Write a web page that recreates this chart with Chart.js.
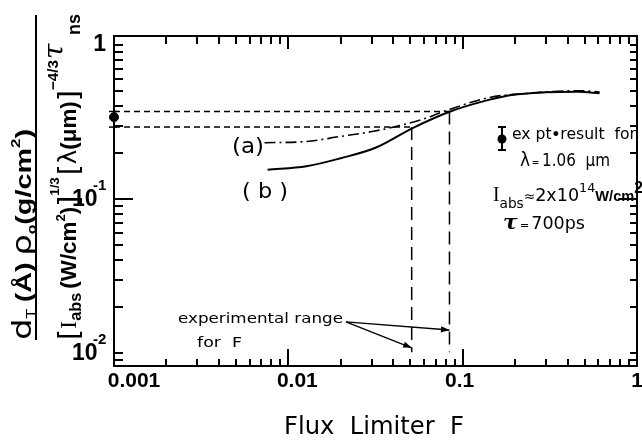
<!DOCTYPE html>
<html>
<head>
<meta charset="utf-8">
<script src="https://cdn.jsdelivr.net/npm/chart.js@4.4.1/dist/chart.umd.min.js"></script>
<style>
  html, body { margin: 0; padding: 0; background: #fff; overflow: hidden; }
  canvas { display: block; }
</style>
</head>
<body>
<canvas id="chart" width="642" height="442"></canvas>
<script>
// curve (b), solid
const fluxB  = [0.0076, 0.0127, 0.020, 0.0316, 0.052, 0.085, 0.141, 0.191, 0.297, 0.46, 0.61];
const depthB = [0.155, 0.163, 0.184, 0.215, 0.29, 0.37, 0.44, 0.474, 0.493, 0.497, 0.486];
// curve (a), dash-dot
const fluxA  = [0.0073, 0.0126, 0.0196, 0.0302, 0.0412, 0.0613, 0.0729, 0.141, 0.238, 0.46, 0.61];
const depthA = [0.232, 0.236, 0.254, 0.274, 0.295, 0.334, 0.36, 0.455, 0.486, 0.505, 0.495];

// experiment: point on the axis, range lines
const exptF = [0.001];
const exptDepth = [0.34];
const rangeF = [0.051, 0.084];
const rangeDepth = [0.293, 0.37];
const rangeBottom = [0.0101, 0.0101];
const arrowTail = [0.0214, 0.0159];
const arrowTipDepth = [0.0108, 0.0141];

// axes
const xTickValues = [0.001, 0.01, 0.1, 1];
const xTickLabels = ["0.001", "0.01", "0.1", "1"];
const yTickValues = [0.01, 0.1, 1];
const yTickLabels = [["10", "-2"], ["10", "-1"], ["1", ""]];
const yLongTicks = [0.1];
const xLongTicks = [0.01, 0.1];
const yMin = 0.00823, yMax = 1.144;

const pts = (xs, ys) => xs.map((v, i) => ({ x: v, y: ys[i] }));
const line = (data, extra) => Object.assign({
  data, showLine: true, pointRadius: 0, borderColor: "#000",
  borderWidth: 1.5, fill: false
}, extra);

// minor and major tick values of a log axis
function logTicks(min, max) {
  const out = [];
  const lo = Math.floor(Math.log10(min) + 1e-9), hi = Math.ceil(Math.log10(max) - 1e-9);
  for (let e = lo; e <= hi; e++) {
    for (let k = 1; k < 10; k++) {
      const v = k * Math.pow(10, e);
      if (v >= min * 0.999 && v <= max * 1.001) out.push(v);
    }
  }
  return out;
}

// draw a row of text pieces, optionally rotated, squeezed to a length
function runs(ctx, parts, x, y, angle, len) {
  ctx.save();
  ctx.translate(x, y);
  ctx.rotate(angle);
  let total = 0;
  parts.forEach(p => { ctx.font = p.f; total += ctx.measureText(p.t).width + (p.g || 0); });
  if (len) ctx.scale(len / total, 1);
  let pos = 0;
  parts.forEach(p => {
    ctx.font = p.f;
    ctx.fillText(p.t, pos, p.dy || 0);
    pos += ctx.measureText(p.t).width + (p.g || 0);
  });
  ctx.restore();
}

const SANS = '"DejaVu Sans"';
const BOLD = 'bold 22px "Liberation Sans"';
const xLabelShift = [20, 9, -3, 0];

function drawFrame(chart) {
  const ctx = chart.ctx, ca = chart.chartArea;
  const xs = chart.scales.x, ys = chart.scales.y;
  ctx.save();
  ctx.setLineDash([]);
  ctx.strokeStyle = "#000";
  ctx.fillStyle = "#000";
  ctx.lineWidth = 2;
  ctx.strokeRect(ca.left, ca.top, ca.right - ca.left, ca.bottom - ca.top);

  // inward tick marks on all four sides
  ctx.beginPath();
  logTicks(xTickValues[0], xTickValues[xTickValues.length - 1]).forEach(v => {
    const p = Math.round(xs.getPixelForValue(v));
    const big = xLongTicks.some(m => Math.abs(m - v) < m * 1e-6);
    ctx.moveTo(p, ca.bottom); ctx.lineTo(p, ca.bottom - (big ? 17 : 7));
    ctx.moveTo(p, ca.top); ctx.lineTo(p, ca.top + (big ? 13 : 8));
  });
  logTicks(yMin, yMax).forEach(v => {
    const p = Math.round(ys.getPixelForValue(v));
    const big = yLongTicks.some(m => Math.abs(m - v) < m * 1e-6);
    ctx.moveTo(ca.left, p); ctx.lineTo(ca.left + (big ? 19 : 9), p);
    ctx.moveTo(ca.right, p); ctx.lineTo(ca.right - (big ? 19 : 7), p);
  });
  ctx.stroke();

  const seg = (x1, y1, x2, y2) => { ctx.beginPath(); ctx.moveTo(x1, y1); ctx.lineTo(x2, y2); ctx.stroke(); };

  // x tick labels
  ctx.textAlign = "center";
  ctx.textBaseline = "top";
  ctx.font = 'bold 21px "Liberation Sans"';
  xTickValues.forEach((v, i) => ctx.fillText(xTickLabels[i], xs.getPixelForValue(v) + xLabelShift[i], ca.bottom + 5));

  // y tick labels with superscripts
  ctx.textBaseline = "middle";
  yTickValues.forEach((v, i) => {
    const p = ys.getPixelForValue(v);
    const base = yTickLabels[i][0], sup = yTickLabels[i][1];
    ctx.font = 'bold 23px "Liberation Sans"';
    if (!sup) { ctx.textAlign = "right"; ctx.fillText(base, 106, p); return; }
    ctx.textAlign = "left";
    ctx.fillText(base, 72, p + 1);
    ctx.font = 'bold 15px "Liberation Sans"';
    ctx.fillText(sup, 93, p - 13);
  });
  ctx.textAlign = "left";
  ctx.textBaseline = "alphabetic";

  // error caps of the measured point
  ctx.lineWidth = 1.5;
  const ex = xs.getPixelForValue(exptF[0]);
  rangeDepth.forEach(d => { const p = ys.getPixelForValue(d); seg(ex - 5, p, ex + 3, p); });

  // arrow heads
  [6, 7].forEach(i => {
    const m = chart.getDatasetMeta(i).data;
    const a = m[0], b = m[1];
    const ang = Math.atan2(b.y - a.y, b.x - a.x);
    ctx.beginPath();
    ctx.moveTo(b.x, b.y);
    ctx.lineTo(b.x - 9 * Math.cos(ang - 0.35), b.y - 9 * Math.sin(ang - 0.35));
    ctx.lineTo(b.x - 9 * Math.cos(ang + 0.35), b.y - 9 * Math.sin(ang + 0.35));
    ctx.closePath();
    ctx.fill();
  });

  // y axis title, a rotated fraction
  const up = -Math.PI / 2;
  runs(ctx, [
    { t: "d", f: "26px " + SANS },
    { t: "T", f: "12px " + SANS, dy: 4, g: 5 },
    { t: "(Å)", f: BOLD, g: 5 },
    { t: "ρ", f: "26px " + SANS },
    { t: "o", f: 'bold 12px "Liberation Sans"', dy: 5 },
    { t: "(g/cm", f: BOLD },
    { t: "2", f: 'bold 13px "Liberation Sans"', dy: -11 },
    { t: ")", f: BOLD }
  ], 31, 340, up, 211);
  ctx.lineWidth = 2;
  seg(36, 340, 36, 15);
  runs(ctx, [
    { t: "[", f: "28px " + SANS, dy: 3 },
    { t: "I", f: '24px "Liberation Serif"' },
    { t: "abs", f: 'bold 16px "Liberation Sans"', dy: 5, g: 4 },
    { t: "(W/cm", f: BOLD },
    { t: "2", f: 'bold 13px "Liberation Sans"', dy: -11 },
    { t: ")", f: BOLD },
    { t: "]", f: "28px " + SANS, dy: 3 },
    { t: "1/3", f: 'bold 13px "Liberation Sans"', dy: -17, g: 2 },
    { t: "[", f: "28px " + SANS, dy: 3 },
    { t: "λ", f: "24px " + SANS },
    { t: "(μm)", f: BOLD },
    { t: "]", f: "28px " + SANS, dy: 3 },
    { t: "−4/3", f: 'bold 15px "Liberation Sans"', dy: -18 }
  ], 76, 340, up, 280);
  runs(ctx, [{ t: "τ", f: 'italic 28px "DejaVu Serif"' }], 63, 59, up);
  runs(ctx, [{ t: "ns", f: 'bold 18px "Liberation Sans"' }], 80, 35, up);

  // curve labels
  runs(ctx, [{ t: "(a)", f: "22px " + SANS }], 232, 153, 0, 32);
  runs(ctx, [{ t: "( b )", f: "22px " + SANS }], 242, 198, 0, 46);

  // legend box on the right
  const lx = 502;
  seg(lx, 127, lx, 150);
  seg(lx - 4, 127, lx + 4, 127);
  seg(lx - 4, 150, lx + 4, 150);
  ctx.beginPath(); ctx.arc(lx, 139, 4.5, 0, 2 * Math.PI); ctx.fill();
  runs(ctx, [
    { t: "ex pt", f: "16px " + SANS },
    { t: "•", f: "bold 14px " + SANS },
    { t: "result  for", f: "16px " + SANS }
  ], 512, 139, 0, 124);
  runs(ctx, [
    { t: "λ", f: "19px " + SANS, g: 2 },
    { t: "=", f: "10px " + SANS, g: 3 },
    { t: "1.06  μm", f: "17px " + SANS }
  ], 520, 166, 0, 90);
  runs(ctx, [
    { t: "I", f: '20px "Liberation Serif"' },
    { t: "abs", f: "14px " + SANS, dy: 7 },
    { t: "≈", f: "14px " + SANS },
    { t: "2x10", f: "18px " + SANS },
    { t: "14", f: "13px " + SANS, dy: -9 },
    { t: "W/cm", f: 'bold 15px "Liberation Sans"' },
    { t: "2", f: 'bold 16px "Liberation Sans"', dy: -8 }
  ], 493, 201, 0, 150);
  runs(ctx, [
    { t: "τ", f: 'bold italic 21px "DejaVu Serif"', g: 2 },
    { t: "=", f: "11px " + SANS, g: 2 },
    { t: "700ps", f: "17px " + SANS }
  ], 503, 229, 0, 82);

  // experimental range note
  runs(ctx, [{ t: "experimental range", f: "14px " + SANS }], 178, 323, 0, 165);
  runs(ctx, [{ t: "for  F", f: "14px " + SANS }], 197, 347, 0, 45);

  // x axis title
  runs(ctx, [{ t: "Flux  Limiter  F", f: "25px " + SANS }], 284, 434, 0, 180);
  ctx.restore();
}

const frame = {
  id: "frame",
  afterDraw(chart) { drawFrame(chart); }
};

new Chart(document.getElementById("chart"), {
  type: "scatter",
  data: {
    datasets: [
      line(pts(fluxB, depthB), { borderWidth: 2, cubicInterpolationMode: "monotone" }),
      line(pts(fluxA, depthA), { borderWidth: 1.6, borderDash: [11, 4, 2, 4], cubicInterpolationMode: "monotone" }),
      line([{ x: exptF[0], y: rangeDepth[0] }, { x: rangeF[0], y: rangeDepth[0] }], { borderDash: [6, 4] }),
      line([{ x: exptF[0], y: rangeDepth[1] }, { x: rangeF[1], y: rangeDepth[1] }], { borderDash: [6, 4] }),
      line([{ x: rangeF[0], y: rangeDepth[0] }, { x: rangeF[0], y: rangeBottom[0] }], { borderDash: [13, 7] }),
      line([{ x: rangeF[1], y: rangeDepth[1] }, { x: rangeF[1], y: rangeBottom[1] }], { borderDash: [13, 7] }),
      line([{ x: arrowTail[0], y: arrowTail[1] }, { x: rangeF[0], y: arrowTipDepth[0] }], { borderWidth: 1.3 }),
      line([{ x: arrowTail[0], y: arrowTail[1] }, { x: rangeF[1], y: arrowTipDepth[1] }], { borderWidth: 1.3 }),
      { data: pts(exptF, exptDepth), pointRadius: 4.5, backgroundColor: "#000", borderColor: "#000", clip: false }
    ]
  },
  options: {
    responsive: false,
    animation: false,
    layout: { padding: { top: 36, right: 5, left: 0, bottom: 0 }, autoPadding: false },
    plugins: { legend: { display: false }, tooltip: { enabled: false } },
    scales: {
      x: {
        type: "logarithmic", min: 0.001, max: 1,
        afterBuildTicks: s => { s.ticks = xTickValues.map(v => ({ value: v })); },
        afterFit: s => { s.height = 76; },
        grid: { display: false, drawTicks: false },
        border: { display: false },
        ticks: { display: false }
      },
      y: {
        type: "logarithmic", min: yMin, max: yMax,
        afterFit: s => { s.width = 114; },
        grid: { display: false, drawTicks: false },
        border: { display: false },
        ticks: { display: false }
      }
    }
  },
  plugins: [frame]
});
</script>
</body>
</html>
